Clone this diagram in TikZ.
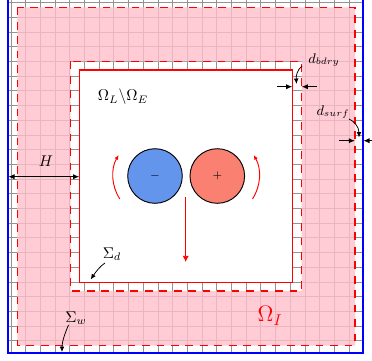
\documentclass[tikz,border=0pt]{standalone}
\usetikzlibrary{arrows.meta}
\definecolor{cbblue}{RGB}{100,149,237}
\definecolor{salm}{RGB}{250,128,114}
\definecolor{pinkfill}{RGB}{255,191,204}
\tikzset{
  gridline/.style={draw=gray!85, line width=0.55pt},
  bluebd/.style={draw=blue, line width=1.3pt},
  reddash/.style={draw=red, line width=0.75pt, dash pattern=on 5pt off 4.3pt},
  redsolid/.style={draw=red, line width=0.75pt},
  ball/.style={circle, draw=black, line width=0.6pt, minimum size=35.1pt, inner sep=0pt, font=\scriptsize},
  dimarrow/.style={line width=0.7pt, -{Latex[length=4pt,width=3.4pt]}},
  ptrarrow/.style={line width=0.5pt, -{Latex[length=3.5pt,width=3pt]}},
  redarc/.style={draw=red, line width=0.6pt, -{Latex[length=3pt,width=2.6pt]}},
  lbl/.style={inner sep=0pt},
}
\begin{document}
\begin{tikzpicture}[x=0.6428pt, y=-0.6428pt]
\useasboundingbox (0,0) rectangle (372,360);
\clip (0,0) rectangle (372,360);
% grid inside the blue box
\begin{scope}
  \clip (8,-10) rectangle (363,353);
  \foreach \i in {0,...,23} { \draw[gridline] ({11+14.7*\i},-10) -- ({11+14.7*\i},360); }
  \foreach \j in {0,...,23} { \draw[gridline] (0,{2.7+14.7*\j}) -- (372,{2.7+14.7*\j}); }
\end{scope}
% pink interface region
\fill[pinkfill, fill opacity=0.8, even odd rule]
  (17.3,7.3) rectangle (355,345.5) (70.7,61.3) rectangle (301.7,291);
\draw[reddash] (17.3,7.3) rectangle (355,345.5);
\draw[reddash] (70.7,61.3) rectangle (301.7,291);
% domain
\draw[redsolid, fill=white] (79.3,70) rectangle (292.3,282.7);
% blue outer boundary
\draw[bluebd] (7.8,-10) -- (7.8,353.3) -- (363.3,353.3) -- (363.3,-10);

% cylinders
\node[ball, fill=cbblue] (cm) at (155,176) {$-$};
\node[ball, fill=salm] (cp) at (217.3,176) {$+$};
\draw[redarc] ([shift={(147:42)}]cm.center) arc[start angle=147, end angle=210, radius=42];
\draw[redarc] ([shift={(33:42)}]cp.center) arc[start angle=33, end angle=-30, radius=42];
\coordinate (vs) at (185.7,196.5);
\coordinate (ve) at (185.7,262);
\draw[draw=red, line width=0.6pt, -{Latex[length=4pt,width=4pt]}] (vs) -- (ve);

% labels
\node[lbl] (omle) at (123,97) {$\Omega_L\backslash\Omega_E$};
\node[lbl] (hl) at (46,161) {$H$};
\node[lbl] (sd) at (112,254) {$\Sigma_d$};
\node[lbl] (sw) at (76,318) {$\Sigma_w$};
\node[lbl, text=red, font=\Large] (oi) at (270,316) {$\Omega_I$};
\node[lbl, font=\small] (db) at (324,60) {$d_{bdry}$};
\node[lbl, font=\small] (ds) at (333,112) {$d_{surf}$};

% H dimension
\coordinate (hA) at (8.3,176.7);
\coordinate (hB) at (79.3,176.7);
\draw[line width=0.7pt, {Latex[length=4pt,width=3.4pt]}-{Latex[length=4pt,width=3.4pt]}] (hA) -- (hB);

% d_bdry dimension
\coordinate (b1s) at (277,86.7);
\coordinate (b1e) at (292.3,86.7);
\coordinate (b2s) at (317,86.7);
\coordinate (b2e) at (301.7,86.7);
\draw[dimarrow] (b1s) -- (b1e);
\draw[dimarrow] (b2s) -- (b2e);
\coordinate (dbS) at (302,66);
\coordinate (dbE) at (296.5,84);
\draw[ptrarrow] (dbS) .. controls (297,70) and (296,76) .. (dbE);

% d_surf dimension
\coordinate (s1s) at (339,140.7);
\coordinate (s1e) at (355,140.7);
\coordinate (s2s) at (380,140.7);
\coordinate (s2e) at (363.3,140.7);
\draw[dimarrow] (s1s) -- (s1e);
\draw[dimarrow] (s2s) -- (s2e);
\coordinate (dsS) at (349,119);
\coordinate (dsE) at (359,137.5);
\draw[ptrarrow] (dsS) .. controls (354,121) and (359,127) .. (dsE);

% Sigma pointers
\coordinate (sdS) at (105,263);
\coordinate (sdE) at (90.7,279.5);
\draw[ptrarrow] (sdS) .. controls (100,266) and (95,273) .. (sdE);
\coordinate (swS) at (68.5,325);
\coordinate (swE) at (62,352);
\draw[ptrarrow] (swS) .. controls (65,333) and (62,342) .. (swE);
\end{tikzpicture}
\end{document}
